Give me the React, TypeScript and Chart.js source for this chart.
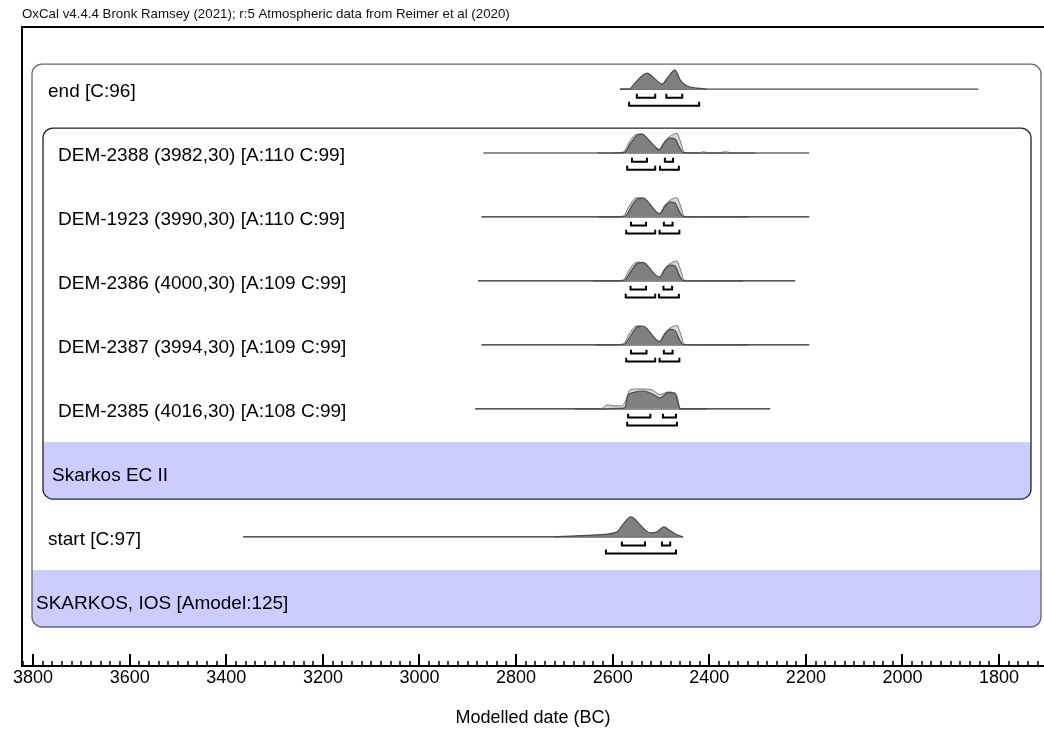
import React, { useEffect, useRef } from "react";
import { Chart, registerables } from "chart.js";

Chart.register(...registerables);

const FONT = "'Liberation Sans', Arial, Helvetica, sans-serif";
const TITLE = "OxCal v4.4.4 Bronk Ramsey (2021); r:5 Atmospheric data from Reimer et al (2020)";
const AXIS_TITLE = "Modelled date (BC)";

// x axis (years BC, drawn right-to-left)
const X_MIN = 1707;
const X_MAX = 3823;
const MAJOR_STEP = 200;
const MINOR_STEP = 20;

// rows
const rowLabels = [
  "end [C:96]",
  "DEM-2388 (3982,30) [A:110 C:99]",
  "DEM-1923 (3990,30) [A:110 C:99]",
  "DEM-2386 (4000,30) [A:109 C:99]",
  "DEM-2387 (3994,30) [A:109 C:99]",
  "DEM-2385 (4016,30) [A:108 C:99]",
  "start [C:97]",
];
const rowIndex = [1, 2, 3, 4, 5, 6, 8];
const rowIndent = [26, 36, 36, 36, 36, 36, 26];

const groupLabels = ["Skarkos EC II", "SKARKOS, IOS [Amodel:125]"];
const groupRow = [7, 9];
const groupIndent = [30, 14];

// range lines (years)
const lineFrom = [2585, 2868, 2872, 2879, 2872, 2885, 3365];
const lineTo = [1843, 2193, 2193, 2222, 2193, 2274, 2454];

// posterior distributions (years, relative density)
const endPostYears = [2585, 2566, 2554, 2540, 2529, 2512, 2498, 2487, 2471, 2460, 2446, 2425, 2405];
const endPostDens = [0, 0, 0.3, 0.65, 0.8, 0.5, 0.25, 0.55, 0.95, 0.45, 0.15, 0.05, 0];

const d2388PostYears = [2632, 2600, 2580, 2574, 2564, 2549, 2539, 2527, 2512, 2504, 2492, 2481, 2471, 2460, 2454, 2420, 2305];
const d2388PostDens = [0, 0, 0.02, 0.05, 0.45, 0.9, 0.95, 0.7, 0.3, 0.15, 0.55, 0.75, 0.7, 0.2, 0.02, 0, 0];
const d2388LikeYears = [2600, 2578, 2566, 2550, 2539, 2527, 2512, 2504, 2492, 2481, 2467, 2460, 2452, 2440, 2420, 2412, 2404, 2380, 2366, 2358, 2340];
const d2388LikeDens = [0, 0.05, 0.55, 0.95, 0.95, 0.7, 0.3, 0.2, 0.6, 0.85, 1.0, 0.6, 0.05, 0.01, 0.02, 0.06, 0.02, 0.02, 0.06, 0.03, 0];

const d1923PostYears = [2630, 2600, 2580, 2572, 2562, 2548, 2536, 2524, 2511, 2503, 2492, 2481, 2471, 2461, 2454, 2420, 2320];
const d1923PostDens = [0, 0, 0.02, 0.08, 0.5, 0.92, 0.95, 0.68, 0.28, 0.15, 0.52, 0.75, 0.7, 0.22, 0.02, 0, 0];
const d1923LikeYears = [2600, 2578, 2566, 2550, 2538, 2526, 2511, 2503, 2492, 2481, 2467, 2460, 2452, 2440, 2400, 2360, 2340];
const d1923LikeDens = [0, 0.05, 0.55, 0.97, 0.95, 0.68, 0.3, 0.2, 0.6, 0.85, 0.97, 0.6, 0.05, 0.01, 0.02, 0.02, 0];

const d2386PostYears = [2640, 2600, 2580, 2573, 2562, 2548, 2536, 2524, 2511, 2503, 2492, 2481, 2471, 2461, 2454, 2420, 2330];
const d2386PostDens = [0, 0, 0.02, 0.08, 0.5, 0.9, 0.92, 0.66, 0.28, 0.18, 0.58, 0.8, 0.75, 0.22, 0.02, 0, 0];
const d2386LikeYears = [2600, 2578, 2566, 2550, 2538, 2526, 2511, 2503, 2492, 2481, 2467, 2460, 2452, 2440, 2400, 2360, 2340];
const d2386LikeDens = [0, 0.05, 0.55, 0.95, 0.93, 0.66, 0.3, 0.22, 0.62, 0.88, 1.0, 0.6, 0.05, 0.01, 0.02, 0.02, 0];

const d2387PostYears = [2635, 2600, 2580, 2573, 2562, 2548, 2536, 2524, 2511, 2503, 2492, 2481, 2471, 2461, 2454, 2420, 2320];
const d2387PostDens = [0, 0, 0.02, 0.08, 0.5, 0.92, 0.94, 0.68, 0.28, 0.16, 0.55, 0.78, 0.72, 0.22, 0.02, 0, 0];
const d2387LikeYears = [2600, 2578, 2566, 2550, 2538, 2526, 2511, 2503, 2492, 2481, 2467, 2460, 2452, 2440, 2400, 2360, 2340];
const d2387LikeDens = [0, 0.05, 0.55, 0.96, 0.94, 0.68, 0.3, 0.2, 0.6, 0.86, 0.98, 0.6, 0.05, 0.01, 0.02, 0.02, 0];

const d2385PostYears = [2678, 2620, 2590, 2575, 2568, 2558, 2537, 2518, 2502, 2485, 2471, 2465, 2460, 2405];
const d2385PostDens = [0, 0, 0.02, 0.05, 0.7, 0.82, 0.9, 0.75, 0.55, 0.82, 0.78, 0.3, 0, 0];
const d2385LikeYears = [2640, 2622, 2612, 2596, 2581, 2572, 2565, 2555, 2537, 2518, 2502, 2485, 2471, 2465, 2461, 2440];
const d2385LikeDens = [0, 0.02, 0.2, 0.15, 0.15, 0.5, 0.95, 1.0, 1.0, 0.95, 0.72, 0.85, 0.8, 0.5, 0.03, 0];

const startPostYears = [2720, 2703, 2632, 2591, 2578, 2562, 2547, 2533, 2521, 2508, 2494, 2481, 2467, 2456];
const startPostDens = [0, 0.02, 0.1, 0.25, 0.65, 1.0, 0.7, 0.35, 0.2, 0.25, 0.5, 0.3, 0.1, 0];

// highest posterior density ranges (years)
const range68 = [
  [[2550, 2512], [2489, 2456]],
  [[2560, 2529], [2492, 2475]],
  [[2562, 2531], [2494, 2476]],
  [[2563, 2531], [2495, 2477]],
  [[2562, 2530], [2494, 2476]],
  [[2568, 2522], [2496, 2469]],
  [[2581, 2533], [2498, 2481]],
];
const range95 = [
  [[2566, 2421]],
  [[2570, 2512], [2502, 2463]],
  [[2572, 2512], [2503, 2462]],
  [[2573, 2512], [2504, 2463]],
  [[2572, 2512], [2503, 2462]],
  [[2570, 2467]],
  [[2614, 2469]],
];

const posteriors = [
  [endPostYears, endPostDens],
  [d2388PostYears, d2388PostDens],
  [d1923PostYears, d1923PostDens],
  [d2386PostYears, d2386PostDens],
  [d2387PostYears, d2387PostDens],
  [d2385PostYears, d2385PostDens],
  [startPostYears, startPostDens],
];
const likelihoods = [
  null,
  [d2388LikeYears, d2388LikeDens],
  [d1923LikeYears, d1923LikeDens],
  [d2386LikeYears, d2386LikeDens],
  [d2387LikeYears, d2387LikeDens],
  [d2385LikeYears, d2385LikeDens],
  null,
];

// layout constants (row units for y)
const PEAK = 0.31;
const BR_H = 0.06;
const BR68 = 0.135;
const BR95 = 0.26;
const Y_MIN = 0.03;
const Y_MAX = 10.02;

function distPoints(years: number[], dens: number[], row: number) {
  return years.map((yr, i) => ({ x: yr, y: row - dens[i] * PEAK }));
}

function bracketPoints(ranges: number[][], yb: number) {
  const pts: any[] = [];
  ranges.forEach(([a, b]) => {
    pts.push({ x: a, y: yb - BR_H }, { x: a, y: yb }, { x: b, y: yb }, { x: b, y: yb - BR_H }, { x: b, y: null });
  });
  return pts;
}

function roundRectPath(ctx: CanvasRenderingContext2D, x: number, y: number, w: number, h: number, r: number) {
  ctx.beginPath();
  ctx.moveTo(x + r, y);
  ctx.lineTo(x + w - r, y);
  ctx.arcTo(x + w, y, x + w, y + r, r);
  ctx.lineTo(x + w, y + h - r);
  ctx.arcTo(x + w, y + h, x + w - r, y + h, r);
  ctx.lineTo(x + r, y + h);
  ctx.arcTo(x, y + h, x, y + h - r, r);
  ctx.lineTo(x, y + r);
  ctx.arcTo(x, y, x + r, y, r);
  ctx.closePath();
}

const boxes = [
  { l: 10, r: 3, top: 0.61, bottom: 9.41, band: 8.52, stroke: "#666" },
  { l: 21, r: 13, top: 1.61, bottom: 7.41, band: 6.52, stroke: "#222" },
];

const decorPlugin = {
  id: "oxcalDecor",
  beforeDatasetsDraw(chart: any) {
    const { ctx, chartArea, scales } = chart;
    const y = scales.y;
    ctx.save();
    boxes.forEach((b) => {
      const x0 = chartArea.left + b.l;
      const x1 = chartArea.right - b.r;
      const y0 = y.getPixelForValue(b.top);
      const y1 = y.getPixelForValue(b.bottom);
      const yb = y.getPixelForValue(b.band);
      ctx.save();
      roundRectPath(ctx, x0, y0, x1 - x0, y1 - y0, 10);
      ctx.clip();
      ctx.fillStyle = "#ccccff";
      ctx.fillRect(x0, yb, x1 - x0, y1 - yb);
      ctx.restore();
      roundRectPath(ctx, x0, y0, x1 - x0, y1 - y0, 10);
      ctx.strokeStyle = b.stroke;
      ctx.lineWidth = 1.3;
      ctx.stroke();
    });
    ctx.fillStyle = "#000";
    ctx.font = `19px ${FONT}`;
    ctx.textBaseline = "middle";
    ctx.textAlign = "left";
    rowLabels.forEach((t, i) => {
      ctx.fillText(t, chartArea.left + rowIndent[i], y.getPixelForValue(rowIndex[i] + 0.045));
    });
    groupLabels.forEach((t, i) => {
      ctx.fillText(t, chartArea.left + groupIndent[i], y.getPixelForValue(groupRow[i] + 0.045));
    });
    ctx.restore();
  },
  afterDraw(chart: any) {
    const { ctx, chartArea, scales } = chart;
    const x = scales.x;
    ctx.save();
    ctx.strokeStyle = "#000";
    ctx.lineWidth = 2;
    ctx.beginPath();
    ctx.moveTo(chartArea.left, chartArea.bottom);
    ctx.lineTo(chartArea.left, chartArea.top);
    ctx.lineTo(chartArea.right, chartArea.top);
    ctx.stroke();
    x.ticks.forEach((t: any) => {
      if (t.value % MINOR_STEP !== 0) return;
      const px = Math.round(x.getPixelForValue(t.value));
      const major = t.value % MAJOR_STEP === 0;
      ctx.lineWidth = major ? 2 : 1.5;
      ctx.beginPath();
      ctx.moveTo(px, chartArea.bottom);
      ctx.lineTo(px, chartArea.bottom - (major ? 12 : 5));
      ctx.stroke();
    });
    ctx.fillStyle = "#111";
    ctx.font = `13.3px ${FONT}`;
    ctx.textBaseline = "middle";
    ctx.textAlign = "left";
    ctx.fillText(TITLE, chartArea.left, 14.5);
    ctx.restore();
  },
};

export default function App() {
  const ref = useRef<HTMLCanvasElement | null>(null);
  useEffect(() => {
    if (!ref.current) return;
    const datasets: any[] = [];
    rowIndex.forEach((row, i) => {
      datasets.push({
        data: [{ x: lineFrom[i], y: row }, { x: lineTo[i], y: row }],
        borderColor: i === 0 ? "#444" : "#222",
        borderWidth: 1.2,
        fill: false,
        order: 3,
      });
      const lk = likelihoods[i];
      if (lk) {
        datasets.push({
          data: distPoints(lk[0], lk[1], row),
          borderColor: "#777",
          borderWidth: 1,
          backgroundColor: "#d6d6d6",
          fill: { value: row },
          cubicInterpolationMode: "monotone",
          order: 2,
        });
      }
      const po = posteriors[i];
      datasets.push({
        data: distPoints(po[0], po[1], row),
        borderColor: "#4a4a4a",
        borderWidth: 1.2,
        backgroundColor: "#808080",
        fill: { value: row },
        cubicInterpolationMode: "monotone",
        order: 1,
      });
      datasets.push({
        data: bracketPoints(range68[i], row + BR68),
        borderColor: "#000",
        borderWidth: 2,
        fill: false,
        spanGaps: false,
        tension: 0,
        order: 0,
      });
      datasets.push({
        data: bracketPoints(range95[i], row + BR95),
        borderColor: "#000",
        borderWidth: 2,
        fill: false,
        spanGaps: false,
        tension: 0,
        order: 0,
      });
    });

    const chart = new Chart(ref.current, {
      type: "line",
      data: { datasets },
      options: {
        animation: false,
        responsive: false,
        devicePixelRatio: 1,
        layout: { padding: { left: 22, right: 0, top: 27, bottom: 0 } },
        elements: { point: { radius: 0, hoverRadius: 0 }, line: { borderCapStyle: "butt" } },
        plugins: { legend: { display: false }, tooltip: { enabled: false }, title: { display: false } },
        events: [],
        scales: {
          x: {
            type: "linear",
            min: X_MIN,
            max: X_MAX,
            reverse: true,
            border: { display: true, color: "#000", width: 2 },
            grid: { display: true, drawOnChartArea: false, drawTicks: false },
            ticks: {
              stepSize: MINOR_STEP,
              includeBounds: false,
              autoSkip: false,
              maxRotation: 0,
              minRotation: 0,
              padding: 1.5,
              color: "#000",
              font: { family: FONT, size: 18 },
              callback: (v: any) => (Number(v) % MAJOR_STEP === 0 ? String(v) : ""),
            },
            title: {
              display: true,
              text: AXIS_TITLE,
              color: "#000",
              font: { family: FONT, size: 18 },
              padding: { top: 0, bottom: 7 },
            },
            afterFit: (s: any) => {
              s.height = 70;
            },
          },
          y: { type: "linear", display: false, min: Y_MIN, max: Y_MAX, reverse: true },
        },
      },
      plugins: [decorPlugin],
    });
    return () => chart.destroy();
  }, []);

  return (
    <div style={{ position: "fixed", left: 0, top: 0, width: 1044, height: 736, background: "#fff" }}>
      <canvas ref={ref} width={1044} height={736} style={{ display: "block" }} />
    </div>
  );
}
